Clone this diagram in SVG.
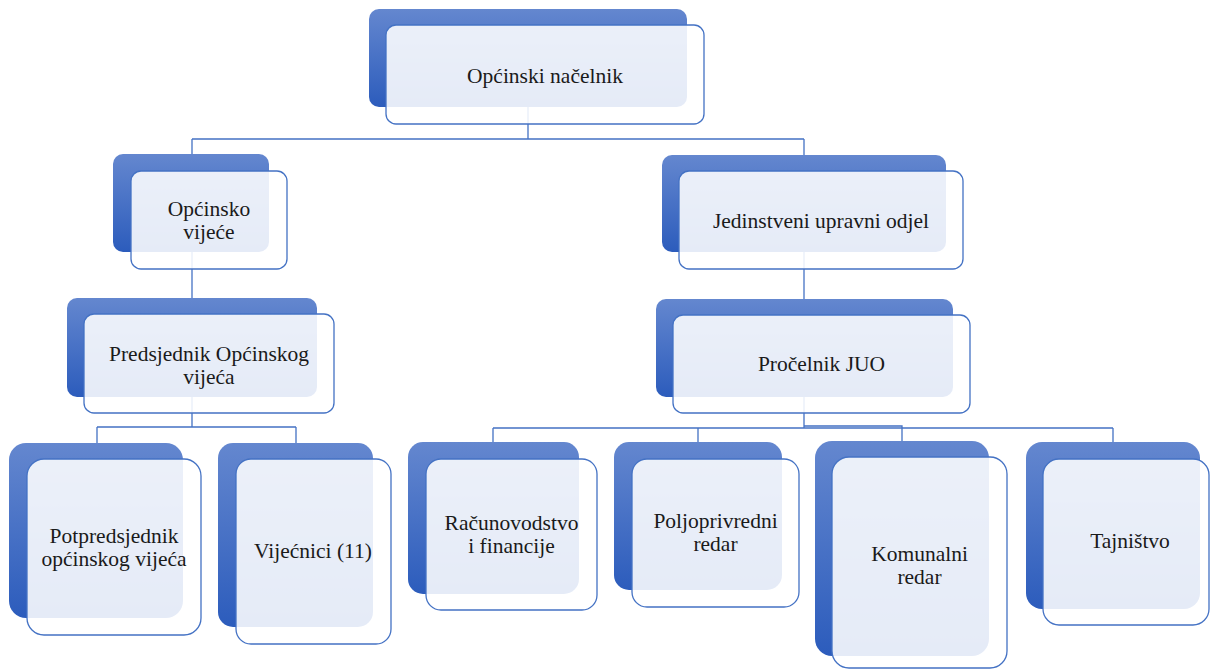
<svg xmlns="http://www.w3.org/2000/svg" width="1210" height="670" viewBox="0 0 1210 670">
<defs>
<linearGradient id="g" x1="0" y1="0" x2="0" y2="1">
<stop offset="0" stop-color="#6487cf"/>
<stop offset="1" stop-color="#2c5cbc"/>
</linearGradient>
</defs>
<style>
.back{fill:url(#g);}
.front{fill:#ffffff;fill-opacity:0.88;stroke:#4472c4;stroke-width:1.3;}
.lbl{font-family:"Liberation Serif","Times New Roman",serif;font-size:21.5px;fill:#1a1a1a;text-anchor:middle;}
.con{fill:none;stroke:#4472c4;stroke-width:1.3;}
</style>
<rect width="1210" height="670" fill="#ffffff"/>
<g id="connectors">
<path class="con" d="M528,107 V139 M192,139 H804 M192,139 V155 M804,139 V155"/>
<path class="con" d="M192,252 V298"/>
<path class="con" d="M192,397 V427 M97,427 H296 M97,427 V443 M296,427 V443"/>
<path class="con" d="M804,252 V299"/>
<path class="con" d="M804,397 V428 M493,428 H1113 M493,428 V442 M698,428 V442 M1113,428 V442 M804,426 H902 V441"/>
</g>
<g id="n-nacelnik">
<rect class="back" x="369" y="9" width="318" height="98" rx="10"/>
<rect class="front" x="386" y="25" width="318" height="99" rx="10"/>
<text class="lbl" x="545" y="83">Općinski načelnik</text>
</g>
<g id="n-vijece">
<rect class="back" x="113" y="154" width="156" height="98" rx="10"/>
<rect class="front" x="131" y="171" width="156" height="98" rx="10"/>
<text class="lbl" x="209" y="215.5">Općinsko</text>
<text class="lbl" x="209" y="238.5">vijeće</text>
</g>
<g id="n-predsjednik">
<rect class="back" x="67" y="298" width="250" height="99" rx="10"/>
<rect class="front" x="84" y="314" width="250" height="99" rx="10"/>
<text class="lbl" x="209" y="360.5">Predsjednik Općinskog</text>
<text class="lbl" x="209" y="383.5">vijeća</text>
</g>
<g id="n-potpredsjednik">
<rect class="back" x="9" y="443" width="174" height="175" rx="17"/>
<rect class="front" x="27" y="459" width="174" height="176" rx="17"/>
<text class="lbl" x="114" y="542.5">Potpredsjednik</text>
<text class="lbl" x="114" y="565.5">općinskog vijeća</text>
</g>
<g id="n-vijecnici">
<rect class="back" x="218" y="443" width="155" height="184" rx="15"/>
<rect class="front" x="236" y="459" width="155" height="185" rx="15"/>
<text class="lbl" x="313" y="558">Vijećnici (11)</text>
</g>
<g id="n-juo">
<rect class="back" x="662" y="155" width="284" height="97" rx="10"/>
<rect class="front" x="679" y="171" width="284" height="98" rx="10"/>
<text class="lbl" x="821" y="228">Jedinstveni upravni odjel</text>
</g>
<g id="n-procelnik">
<rect class="back" x="656" y="299" width="297" height="98" rx="10"/>
<rect class="front" x="673" y="315" width="297" height="98" rx="10"/>
<text class="lbl" x="821.5" y="371">Pročelnik JUO</text>
</g>
<g id="n-racunovodstvo">
<rect class="back" x="408" y="442" width="171" height="152" rx="15"/>
<rect class="front" x="426" y="459" width="171" height="151" rx="15"/>
<text class="lbl" x="511.5" y="529.5">Računovodstvo</text>
<text class="lbl" x="511.5" y="552.5">i financije</text>
</g>
<g id="n-poljoprivredni">
<rect class="back" x="614" y="442" width="168" height="148" rx="15"/>
<rect class="front" x="632" y="459" width="167" height="148" rx="15"/>
<text class="lbl" x="715.5" y="527.5">Poljoprivredni</text>
<text class="lbl" x="715.5" y="550.5">redar</text>
</g>
<g id="n-komunalni">
<rect class="back" x="815" y="441" width="174" height="215" rx="17"/>
<rect class="front" x="832" y="457" width="175" height="211" rx="17"/>
<text class="lbl" x="919.5" y="560.5">Komunalni</text>
<text class="lbl" x="919.5" y="583.5">redar</text>
</g>
<g id="n-tajnistvo">
<rect class="back" x="1026" y="442" width="174" height="167" rx="16"/>
<rect class="front" x="1043" y="459" width="166" height="166" rx="16"/>
<text class="lbl" x="1130" y="548">Tajništvo</text>
</g>
</svg>
